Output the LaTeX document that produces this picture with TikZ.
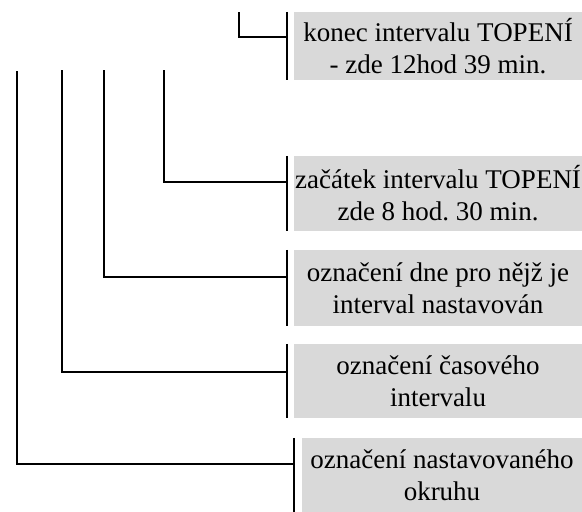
\documentclass[tikz,border=0pt]{standalone}
\usepackage{fontspec}
\setmainfont{Liberation Serif}
\usepackage{tikz}
\usepackage{xcolor}
\definecolor{boxgray}{HTML}{D9D9D9}
\frenchspacing

\begin{document}
\begin{tikzpicture}[x=1pt, y=-1pt,
  popis/.style={fill=boxgray, minimum width=288pt, align=center, inner sep=0pt,
    font=\fontsize{27}{32}\selectfont},
  spoj/.style={line width=2pt}]
\useasboundingbox (0,0) rectangle (582,512);

\node[popis, minimum height=68pt] (konec) at (438,46) {konec intervalu TOPENÍ\\- zde 12hod 39 min.};
\node[popis, minimum height=75pt] (zacatek) at (438,193.5) {začátek intervalu TOPENÍ\\zde 8 hod. 30 min.};
\node[popis, minimum height=76pt] (den) at (438,288) {označení dne pro nějž je\\interval nastavován};
\node[popis, minimum height=74pt] (cas) at (438,381) {označení časového\\intervalu};
\node[popis, minimum height=74pt, minimum width=280pt] (okruh) at (442,475) {označení nastavovaného\\okruhu};

% svorky u popisu
\foreach \n in {konec, zacatek, den, cas}
    \draw[spoj] ([xshift=-7pt]\n.north west) -- ([xshift=-7pt]\n.south west);
\draw[spoj] ([xshift=-8pt]okruh.north west) -- ([xshift=-8pt]okruh.south west);

% vodici cary
\foreach \n/\x/\y/\j in {konec/239/12/37, zacatek/164/70/182, den/104/70/277, cas/62/70/372} {
    \coordinate (\n-h) at (\x,\y);
    \coordinate (\n-j) at ([xshift=-7pt]\n.west |- 0,\j);
    \draw[spoj] (\n-h) |- (\n-j);
}
\coordinate (okruh-h) at (17,71);
\coordinate (okruh-j) at ([xshift=-8pt]okruh.west |- 0,464);
\draw[spoj] (okruh-h) |- (okruh-j);
\end{tikzpicture}
\end{document}
